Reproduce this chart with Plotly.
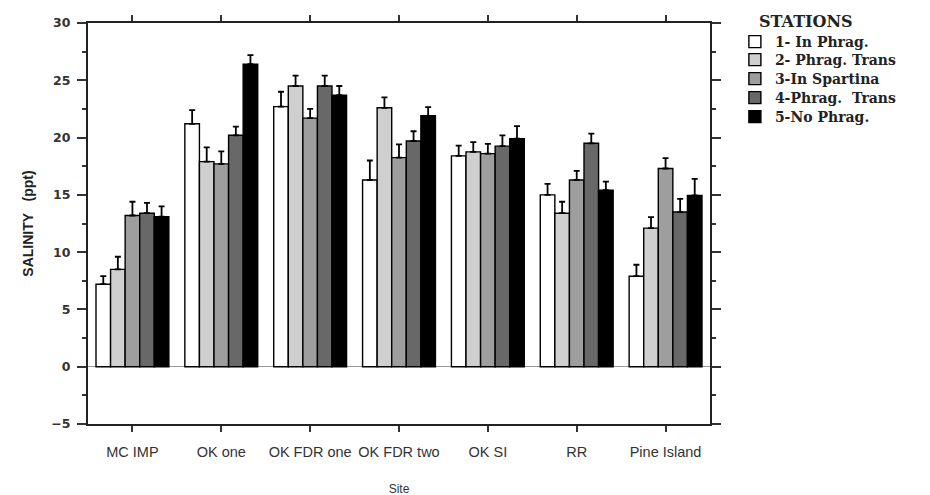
import plotly.graph_objects as go

sites = ["MC IMP", "OK one", "OK FDR one", "OK FDR two", "OK SI", "RR", "Pine Island"]
station_names = ["1- In Phrag.", "2- Phrag. Trans", "3-In Spartina", "4-Phrag.  Trans", "5-No Phrag."]
station_colors = ["#ffffff", "#cfcfcf", "#9e9e9e", "#686868", "#000000"]
legend_title = "STATIONS"

st1 = [7.2, 21.2, 22.7, 16.3, 18.4, 15.0, 7.9]
st2 = [8.5, 17.9, 24.5, 22.6, 18.75, 13.4, 12.1]
st3 = [13.2, 17.7, 21.7, 18.25, 18.6, 16.3, 17.3]
st4 = [13.4, 20.2, 24.5, 19.7, 19.25, 19.5, 13.5]
st5 = [13.1, 26.4, 23.7, 21.9, 19.9, 15.4, 14.95]

err1 = [0.7, 1.2, 1.3, 1.7, 0.9, 0.95, 1.0]
err2 = [1.1, 1.25, 0.9, 0.9, 0.85, 1.0, 0.95]
err3 = [1.2, 1.1, 0.8, 1.15, 0.85, 0.8, 0.9]
err4 = [0.9, 0.75, 0.9, 0.85, 0.95, 0.85, 1.15]
err5 = [0.9, 0.8, 0.8, 0.75, 1.1, 0.75, 1.45]

y_ticks = [-5, 0, 5, 10, 15, 20, 25, 30]

values = [st1, st2, st3, st4, st5]
errors = [err1, err2, err3, err4, err5]

legend_ids = ["legend2", "legend3", "legend4", "legend5", "legend6"]
legend_y = [0.9526, 0.9077, 0.8603, 0.8130, 0.7656]

fig = go.Figure()
for name, col, vals, errs, lid in zip(station_names, station_colors, values, errors, legend_ids):
    fig.add_trace(go.Bar(
        x=sites, y=vals, name=name, legend=lid,
        marker=dict(color=col, line=dict(color="#000000", width=1.4)),
        error_y=dict(type="data", symmetric=False, array=errs,
                     arrayminus=[0] * len(errs), color="#000000",
                     thickness=1.8, width=3),
    ))

leg_font = dict(family="DejaVu Serif, serif", size=14, weight="bold", color="#222222")
legends = {}
for lid, ly in zip(legend_ids, legend_y):
    legends[lid] = dict(x=1.040, y=ly, xanchor="left", yanchor="middle",
                        font=leg_font, bgcolor="rgba(0,0,0,0)", itemwidth=30)

fig.add_annotation(
    text=legend_title, xref="paper", yref="paper", x=1.0756, y=1.0025,
    xanchor="left", yanchor="middle", showarrow=False,
    font=dict(family="DejaVu Serif, serif", size=16, weight="bold", color="#222222"),
)

fig.update_layout(
    width=930, height=495,
    barmode="group", bargap=0.18, bargroupgap=0,
    plot_bgcolor="#ffffff", paper_bgcolor="#ffffff",
    margin=dict(l=80, r=228, t=15, b=79, autoexpand=False),
    font=dict(family="Liberation Sans, Arial, sans-serif", color="#111111"),
    xaxis=dict(
        title=dict(text="Site", font=dict(size=12, color="#333333"), standoff=25),
        showline=True, linecolor="#222222", linewidth=2, mirror="allticks",
        ticks="outside", ticklen=6, tickcolor="#333333", tickwidth=1.5,
        tickfont=dict(size=14.5, family="Liberation Sans, Arial", color="#333333"),
        tickangle=0, ticklabelstandoff=8,
        showgrid=False, range=[-0.5, 6.5],
    ),
    yaxis=dict(
        title=dict(text="<b>SALINITY   (ppt)</b>", font=dict(size=14, color="#222222"), standoff=14),
        range=[-5, 30], tickvals=y_ticks,
        showline=True, linecolor="#222222", linewidth=2, mirror="allticks",
        ticks="outside", ticklen=9, tickcolor="#333333", tickwidth=1.5,
        ticklabelstandoff=4,
        tickfont=dict(size=12.5, family="DejaVu Sans, sans-serif", weight="bold", color="#333333"),
        minor=dict(ticks="outside", ticklen=4, dtick=2.5, tickcolor="#333333", tickwidth=1.5),
        showgrid=False, zeroline=True, zerolinecolor="#999999", zerolinewidth=1.2,
    ),
    **legends,
)

fig.write_html("out.html")
